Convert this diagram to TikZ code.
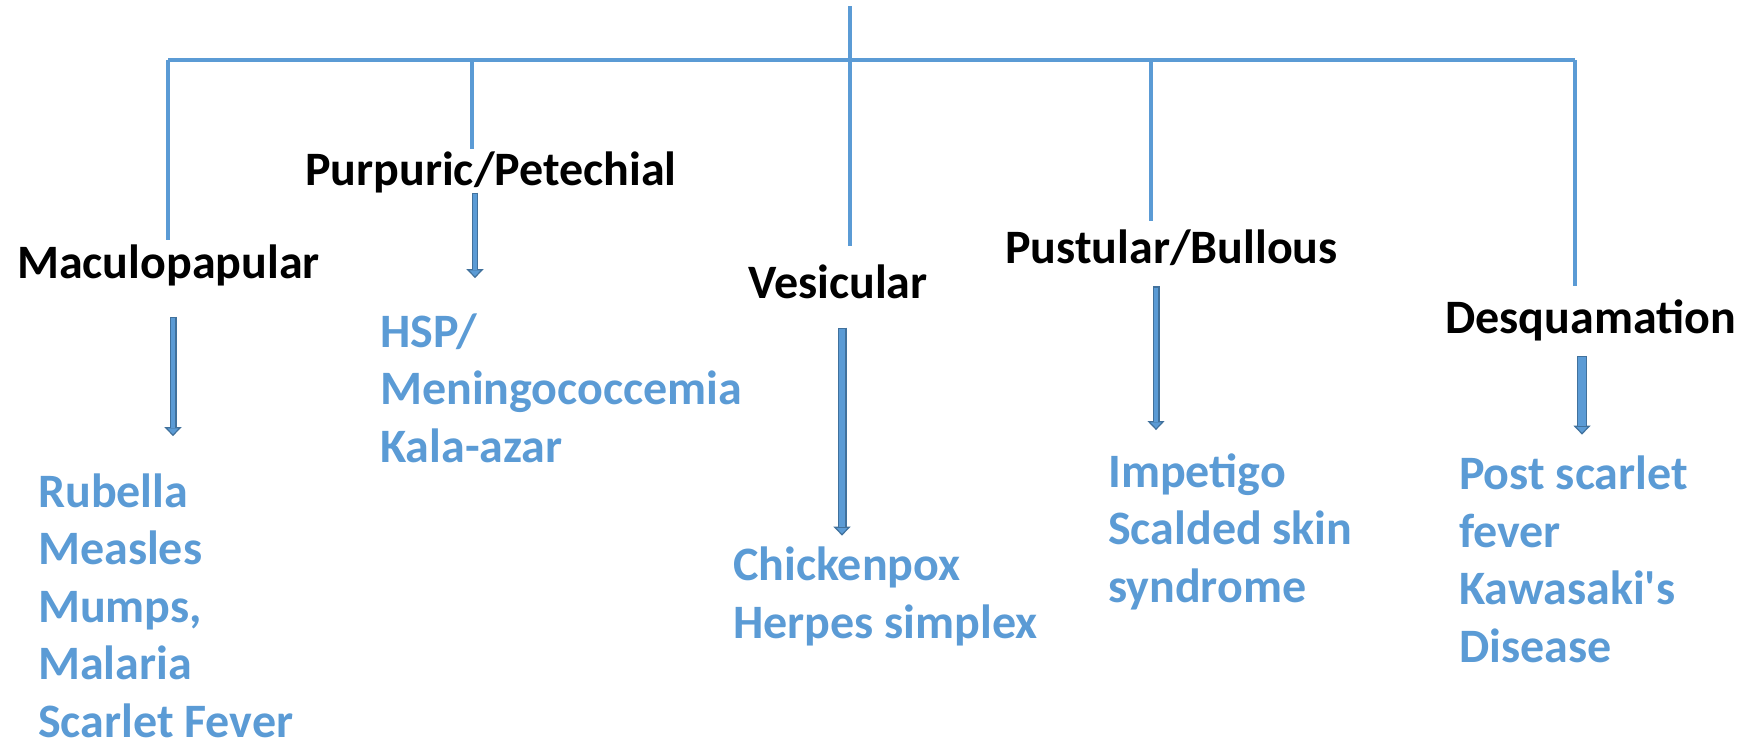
\documentclass[tikz,border=0pt]{standalone}
\usepackage{fontspec}
\setmainfont{Carlito}
\usetikzlibrary{arrows.meta}

\definecolor{rashblue}{HTML}{5B9BD5}
\definecolor{arrowedge}{HTML}{41719C}

\tikzset{
  branch/.style={rashblue, line width=3.5pt},
  head/.style={anchor=base west, inner sep=0pt,
    font=\fontsize{48}{57.5}\selectfont\bfseries},
  cause/.style={head, align=left, text=rashblue},
  downarrow/.style n args={3}{arrowedge, line width=#1,
    shorten <=#2, shorten >=#3,
    -{Triangle[width=17pt, length=9pt, fill=rashblue, line width=1.2pt]},
    postaction={draw=rashblue, line width=#1-2.4pt, -,
      shorten <=#2+1.2pt, shorten >=#3+8.5pt}}
}

\begin{document}
\begin{tikzpicture}[x=1pt,y=-1pt]
\useasboundingbox (0,0) rectangle (1742,744);

% Rash types
\node[head] (mac)  at (17,278)   {Maculopapular};
\node[head] (purp) at (305,185)  {Purpuric/Petechial};
\node[head] (ves)  at (748,298)  {Vesicular};
\node[head] (pus)  at (1005,263) {Pustular/Bullous};
\node[head] (desq) at (1445,333) {Desquamation};

% Diseases (anchored at the last line)
\node[cause] (maclist)  at (38,737)   {Rubella\\Measles\\Mumps,\\Malaria\\Scarlet Fever};
\node[cause] (purplist) at (380,462)  {HSP/\\Meningococcemia\\Kala-azar};
\node[cause] (veslist)  at (733,638)  {Chickenpox\\Herpes simplex};
\node[cause] (puslist)  at (1108,602) {Impetigo\\Scalded skin\\syndrome};
\node[cause] (desqlist) at (1459,662) {Post scarlet\\fever\\Kawasaki\textquotesingle s\\Disease};

% Tree lines
\coordinate (root) at (850,6);
\coordinate (b1) at (168,60);
\coordinate (b2) at (472,60);
\coordinate (b3) at (850,60);
\coordinate (b4) at (1151,60);
\coordinate (b5) at (1575,60);

\draw[branch] (root) -- (b3);
\draw[branch] (b1) -- (b5);
\draw[branch, shorten >=4pt]  (b1) -- (b1 |- mac.north);
\draw[branch, shorten >=2pt]  (b2) -- (b2 |- purp.north);
\draw[branch, shorten >=18pt] (b3) -- (b3 |- ves.north);
\draw[branch, shorten >=8pt]  (b4) -- (b4 |- pus.north);
\draw[branch, shorten >=13pt] (b5) -- (b5 |- desq.north);

% Arrows to the diseases
\coordinate (a1) at (173,0);
\coordinate (a2) at (475,0);
\coordinate (a3) at (842,0);
\coordinate (a4) at (1156,0);
\coordinate (a5) at (1582,0);

\draw[downarrow={7pt}{31pt}{37pt}]  (a1 |- mac.south)  -- (a1 |- maclist.north);
\draw[downarrow={6pt}{0pt}{35pt}]   (a2 |- purp.south) -- (a2 |- purplist.north);
\draw[downarrow={9pt}{29pt}{11pt}]  (a3 |- ves.south)  -- (a3 |- veslist.north);
\draw[downarrow={7pt}{21pt}{23pt}]  (a4 |- pus.south)  -- (a4 |- puslist.north);
\draw[downarrow={10pt}{15pt}{21pt}] (a5 |- desq.south) -- (a5 |- desqlist.north);

\end{tikzpicture}
\end{document}
